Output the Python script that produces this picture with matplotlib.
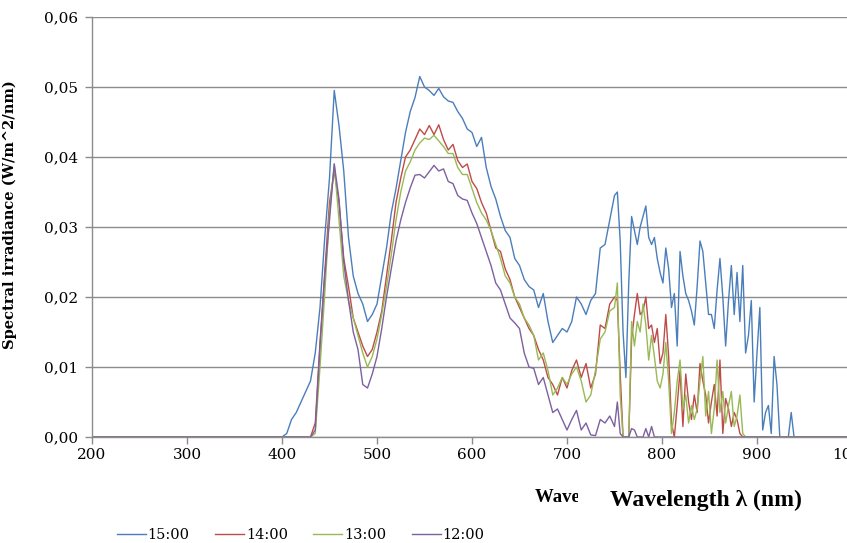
import matplotlib
matplotlib.use("Agg")
import matplotlib.pyplot as plt
from matplotlib.patches import Rectangle

# Sampling grid (nm): 5 nm steps through the visible, 3 nm steps in the near infrared
wavelength = [200] + list(range(400, 751, 5)) + list(range(753, 943, 3)) + [1000]

# Spectral irradiance readings in units of 1e-3 W/m^2/nm
irr_1500 = [0,
    0, 0.5, 2.5, 3.5, 5.0, 6.5, 8.0, 12.0, 18.5, 28.5,
    37.0, 49.5, 44.5, 38.0, 28.5, 23.0, 20.5, 19.0, 16.5, 17.5,
    19.0, 23.0, 27.0, 32.0, 35.5, 39.5, 43.5, 46.5, 48.5, 51.5,
    50.0, 49.5, 48.8, 49.8, 48.6, 48.0, 47.8, 46.5, 45.5, 44.0,
    43.5, 41.5, 42.8, 38.5, 35.8, 34.0, 31.5, 29.5, 28.5, 25.5,
    24.5, 22.5, 21.5, 21.0, 18.5, 20.5, 16.5, 13.5, 14.5, 15.5,
    15.0, 16.5, 20.0, 19.0, 17.5, 19.5, 20.5, 27.0, 27.5, 31.0,
    34.5,
    35.0, 28.0, 15.0, 8.5, 22.0, 31.5, 29.5, 27.5, 30.0, 31.5,
    33.0, 28.5, 27.5, 28.5, 25.5, 23.5, 22.0, 27.0, 24.0, 18.5,
    20.5, 13.0, 26.5, 23.0, 20.5, 19.5, 18.0, 16.0, 21.5, 28.0,
    26.5, 22.0, 17.5, 17.5, 15.5, 21.0, 25.5, 20.0, 13.0, 19.5,
    24.5, 17.5, 23.5, 16.5, 24.5, 12.0, 14.5, 19.5, 5.0, 12.0,
    18.5, 1.0, 3.5, 4.5, 0.5, 11.5, 7.5, 0, 0, 0,
    0, 3.5, 0, 0,
    0]

irr_1400 = [0,
    0, 0, 0, 0, 0, 0, 0, 2.0, 13.5, 23.5,
    33.5, 38.0, 33.5, 25.5, 21.5, 17.0, 15.0, 13.0, 11.5, 12.5,
    15.0, 18.0, 23.0, 28.0, 33.5, 37.0, 40.0, 41.0, 42.5, 44.0,
    43.2, 44.5, 43.2, 44.6, 42.5, 41.0, 41.8, 39.5, 38.5, 39.0,
    36.5, 35.5, 33.5, 32.0, 29.5, 27.0, 26.5, 24.0, 22.5, 20.0,
    18.5, 17.0, 15.5, 14.5, 12.5, 11.0, 8.5, 7.5, 6.0, 8.5,
    7.0, 9.5, 11.0, 8.5, 10.5, 7.0, 9.0, 16.0, 15.5, 19.0,
    20.0,
    19.5, 9.0, 0, 0, 0, 14.0, 17.5, 20.5, 17.5, 18.0,
    20.0, 15.5, 16.0, 13.5, 15.5, 10.5, 12.0, 17.5, 11.5, 2.0,
    0, 4.5, 9.5, 1.5, 9.0, 5.0, 2.5, 6.0, 3.5, 10.5,
    8.0, 6.0, 2.0, 5.0, 7.5, 3.0, 11.0, 0.5, 5.5, 4.0,
    1.5, 3.5, 2.5, 0.5, 0, 0, 0, 0, 0, 0,
    0, 0, 0, 0, 0, 0, 0, 0, 0, 0,
    0, 0, 0, 0,
    0]

irr_1300 = [0,
    0, 0, 0, 0, 0, 0, 0, 0.5, 10.0, 20.5,
    32.0, 39.0, 31.0, 23.0, 19.5, 17.0, 14.5, 12.0, 10.0, 11.5,
    14.0, 17.5, 21.5, 26.0, 31.0, 35.0, 38.0, 39.3, 41.0, 42.0,
    42.7, 42.5, 43.1, 42.3, 41.5, 40.5, 40.5, 38.5, 37.5, 37.5,
    35.5, 33.5, 32.0, 31.0, 29.5, 27.5, 25.5, 23.0, 22.0, 20.0,
    19.0, 17.0, 16.0, 14.5, 11.0, 12.0, 9.5, 6.0, 7.0, 8.5,
    7.5, 9.0, 10.0, 8.0, 5.0, 6.0, 9.5, 14.0, 15.0, 18.0,
    18.5,
    22.0, 6.0, 0, 0, 0, 16.5, 13.0, 16.5, 15.0, 19.0,
    16.0, 11.0, 14.5, 11.5, 8.0, 7.0, 9.0, 13.5, 8.0, 0.5,
    3.5, 8.0, 11.0, 4.0, 6.0, 2.0, 4.5, 2.5, 4.0, 8.0,
    11.5, 3.0, 6.5, 0.5, 4.0, 11.0, 3.5, 6.5, 2.0, 4.5,
    6.5, 1.5, 3.0, 6.0, 0.5, 0, 0, 0, 0, 0,
    0, 0, 0, 0, 0, 0, 0, 0, 0, 0,
    0, 0, 0, 0,
    0]

irr_1200 = [0,
    0, 0, 0, 0, 0, 0, 0, 1.0, 13.0, 23.0,
    31.0, 39.0, 34.0, 25.0, 19.5, 15.0, 12.5, 7.5, 7.0, 9.0,
    11.5, 15.5, 20.0, 24.0, 28.0, 31.0, 33.5, 35.6, 37.4, 37.5,
    37.0, 37.9, 38.8, 38.0, 38.3, 36.5, 36.2, 34.5, 34.0, 33.8,
    32.0, 30.5, 28.5, 26.5, 24.5, 22.0, 21.0, 19.0, 17.0, 16.3,
    15.5, 12.0, 10.0, 9.8, 7.5, 8.5, 6.0, 3.5, 4.0, 2.5,
    1.0, 2.5, 3.8, 1.0, 2.0, 0.3, 0.2, 2.5, 2.0, 3.0,
    1.5,
    5.0, 0.5, 0, 0, 0, 1.2, 1.0, 0, 0, 0,
    1.2, 0, 1.5, 0, 0, 0, 0, 0, 0, 0,
    0, 0, 0, 0, 0, 0, 0, 0, 0, 0,
    0, 0, 0, 0, 0, 0, 0, 0, 0, 0,
    0, 0, 0, 0, 0, 0, 0, 0, 0, 0,
    0, 0, 0, 0, 0, 0, 0, 0, 0, 0,
    0, 0, 0, 0,
    0]

series_labels = ['15:00', '14:00', '13:00', '12:00']
series_colors = ['#4a7ebb', '#be4b48', '#98b954', '#7d60a0']

x_ticks = [200, 300, 400, 500, 600, 700, 800, 900, 1000]
x_tick_labels = ['200', '300', '400', '500', '600', '700', '800', '900', '1000']
y_ticks = [0.0, 0.01, 0.02, 0.03, 0.04, 0.05, 0.06]
y_tick_labels = ['0,00', '0,01', '0,02', '0,03', '0,04', '0,05', '0,06']

axis_grey = '#8c8c8c'
serif = ['DejaVu Serif']

W, H = 847, 543
fig = plt.figure(figsize=(W / 100, H / 100), dpi=100)
ax = fig.add_axes([92 / W, 106 / H, 760 / W, 420 / H])

for vals, lab, col in zip([irr_1500, irr_1400, irr_1300, irr_1200],
                          series_labels, series_colors):
    ax.plot(wavelength, [v * 1e-3 for v in vals], color=col, lw=1.0, label=lab)

ax.set_xlim(200, 1000)
ax.set_ylim(0, 0.06)
ax.set_xticks(x_ticks)
ax.set_xticklabels(x_tick_labels, family=serif, fontsize=11)
ax.set_yticks(y_ticks)
ax.set_yticklabels(y_tick_labels, family=serif, fontsize=11)
ax.tick_params(axis='x', direction='out', length=5, width=1, color=axis_grey, pad=3)
ax.tick_params(axis='y', direction='out', length=5, width=1, color=axis_grey, pad=5)

ax.yaxis.grid(True, color=axis_grey, lw=1)
ax.set_axisbelow(True)
for side in ('top', 'right'):
    ax.spines[side].set_visible(False)
for side in ('left', 'bottom'):
    ax.spines[side].set_color(axis_grey)
    ax.spines[side].set_linewidth(1)

ax.set_ylabel('Spectral irradiance (W/m^2/nm)', family=serif,
              fontweight='bold', fontsize=10.5)
ax.yaxis.set_label_coords((17 - 92) / 760, 0.53)

# Original axis title, partly hidden behind the larger caption box
fig.text(535 / W, 1 - 497 / H, 'Wavelength λ (nm)', family=['Liberation Serif'],
         fontweight='bold', fontsize=13.5, va='center', ha='left')
fig.patches.append(Rectangle((578 / W, 1 - 522 / H), 1 - 578 / W, 44 / H,
                             transform=fig.transFigure, facecolor='white',
                             edgecolor='none', zorder=5))
fig.text(610 / W, 1 - 500 / H, 'Wavelength λ (nm)', family=['Liberation Serif'],
         fontweight='bold', fontsize=17, va='center', ha='left', zorder=6)

ax.legend(loc='center left', bbox_to_anchor=(117 / W, 8 / H),
          bbox_transform=fig.transFigure, ncol=4, frameon=False,
          prop={'family': serif, 'size': 10.5}, handlelength=2.0,
          handletextpad=0.1, columnspacing=1.75, borderpad=0, borderaxespad=0)

fig.savefig('out.png', dpi=100)
